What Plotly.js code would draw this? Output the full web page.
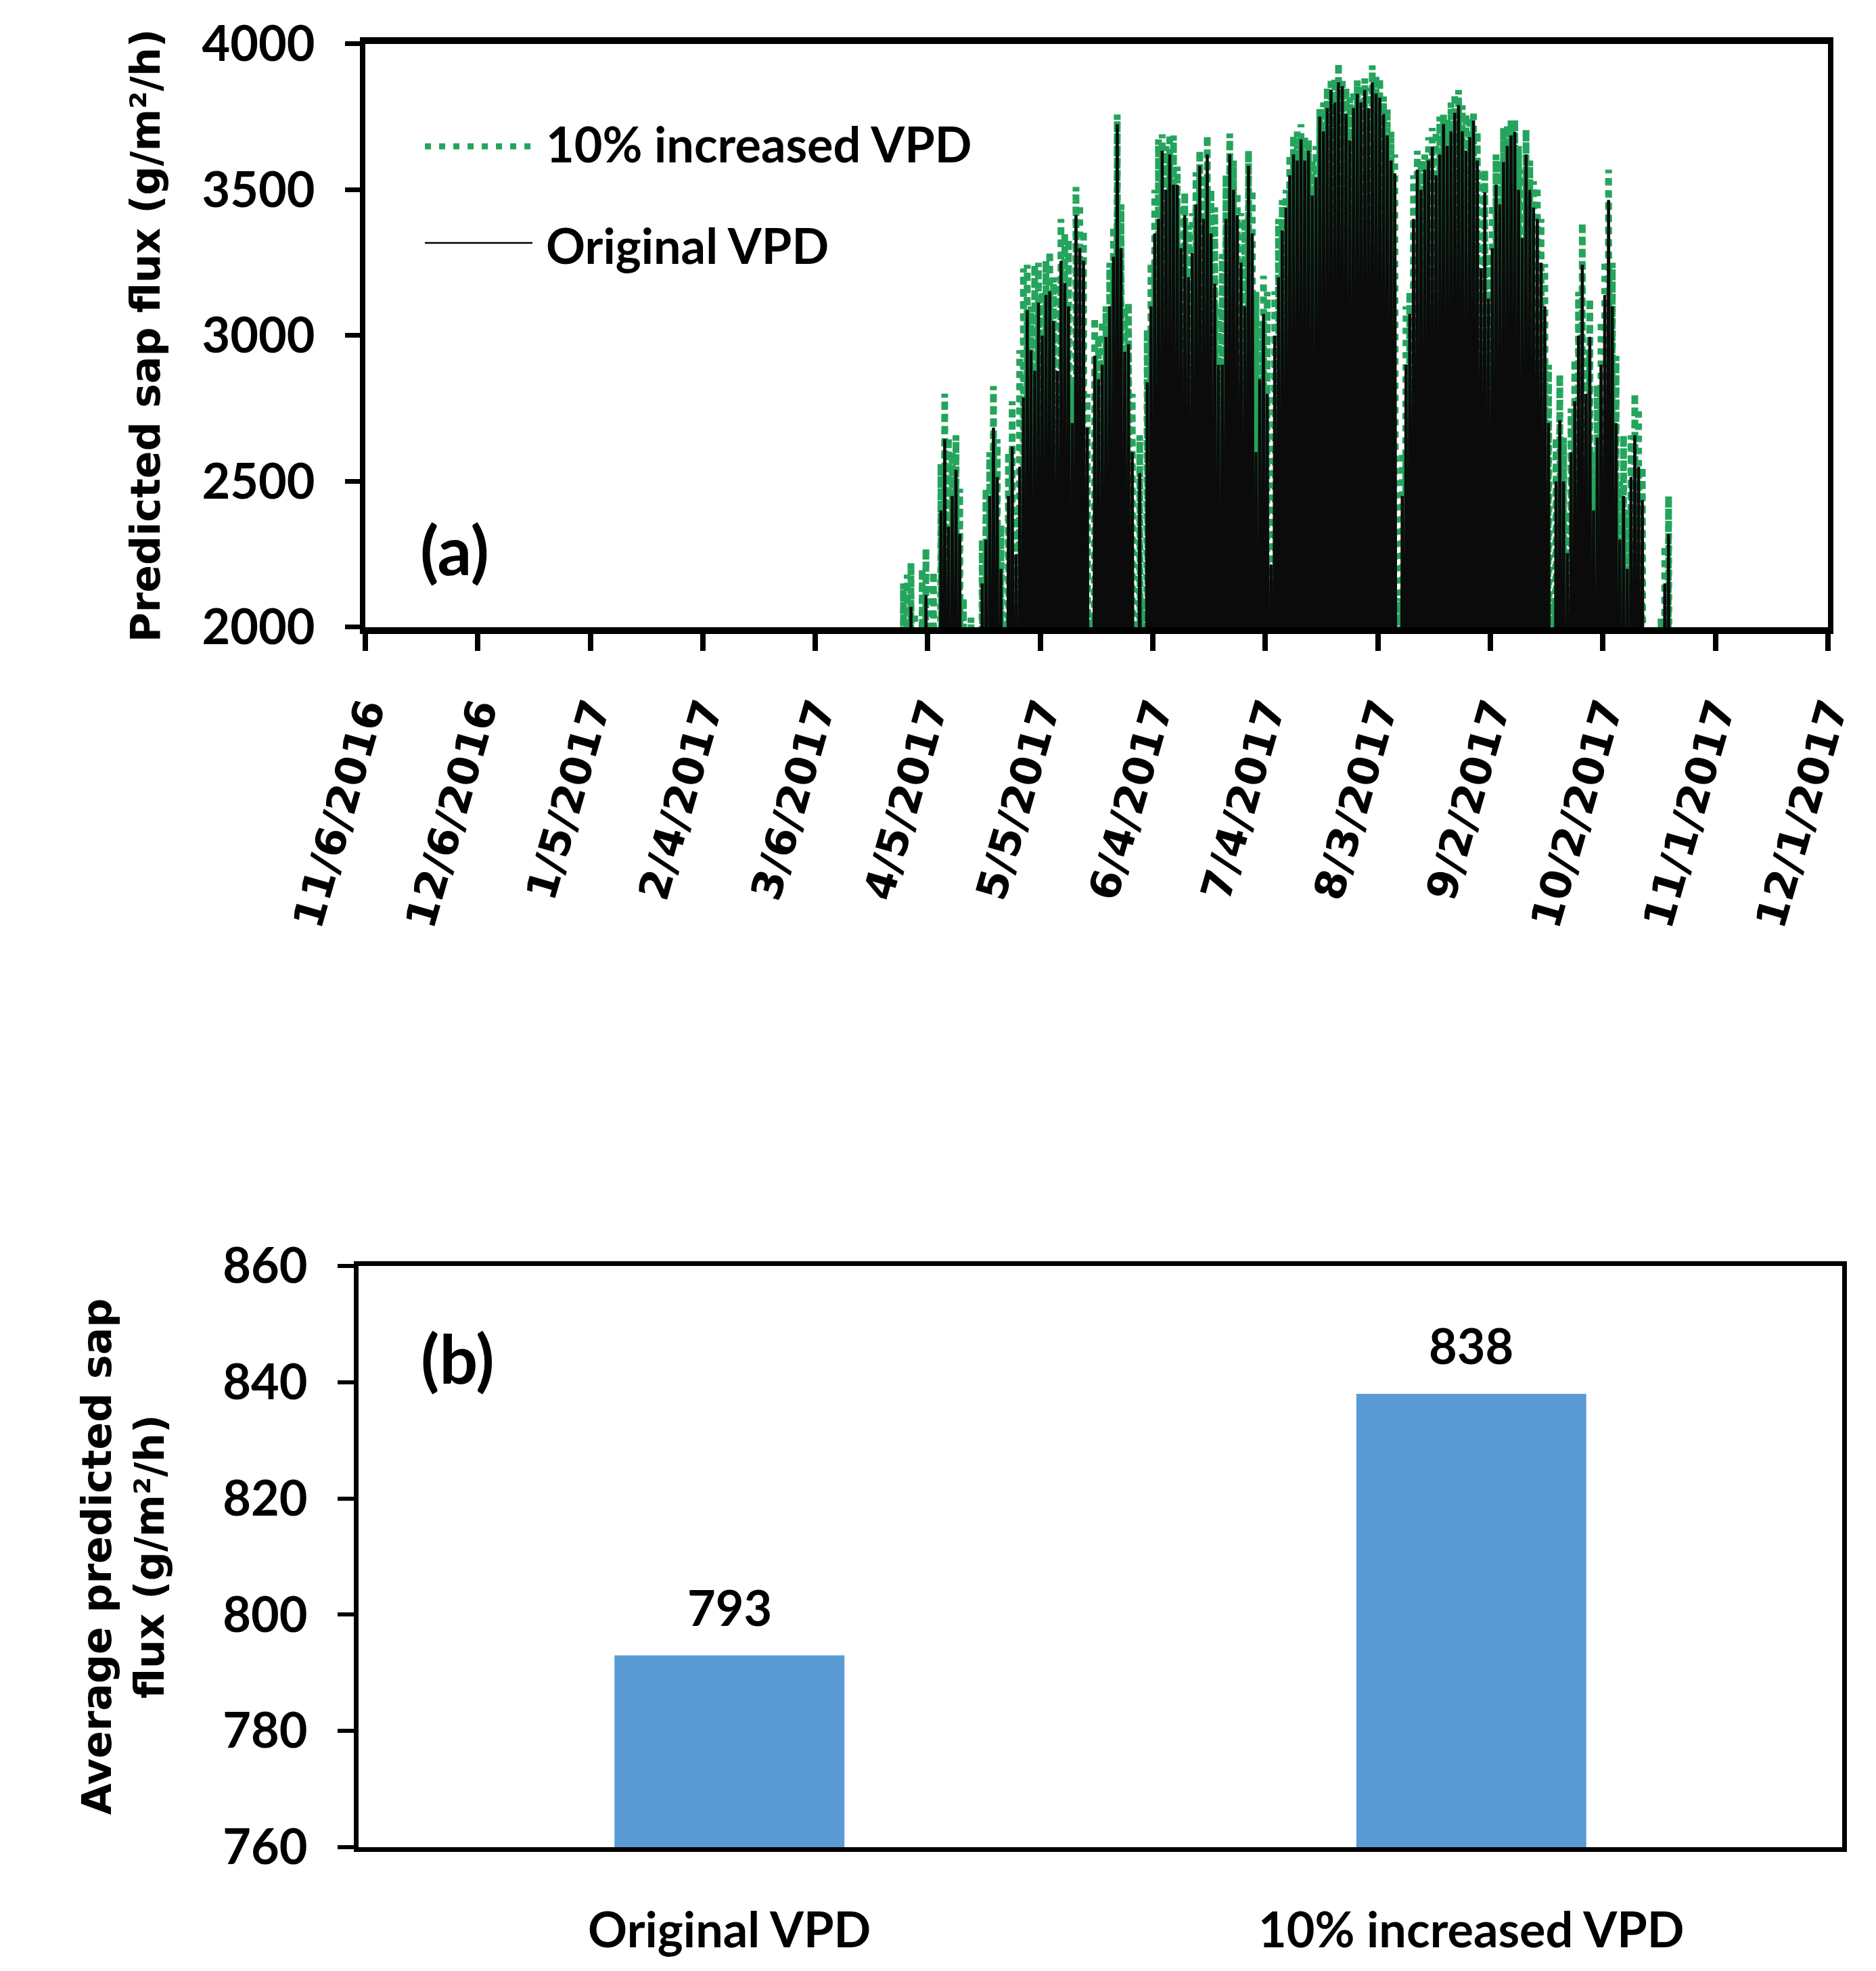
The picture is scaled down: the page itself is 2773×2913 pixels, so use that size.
<!DOCTYPE html>
<html>
<head>
<meta charset="utf-8">
<script src="https://cdn.plot.ly/plotly-3.0.1.min.js"></script>
<style>
  html, body { margin: 0; padding: 0; background: #fff; }
  #chart { width: 2773px; height: 2913px; }
</style>
</head>
<body>
<div id="chart"></div>
<script>
'use strict';
/* (a) Daily peak of predicted sap flux, one value per day from 3/28/2017 */
var start_day = [2017, 2, 28];
var orig_peak = [
  1500, 1900, 1950, 2070, 1900, 1800, 1950, 2110, 1900, 1850,   // 3/28
  1700, 2400, 2645, 2345, 2450, 2540, 2320, 1950, 1700, 1900,   // 4/7
  1600, 1800, 2150, 2300, 2450, 2684, 2515, 2200, 1900, 2450,   // 4/17
  2619, 2250, 2550, 2788, 3087, 2950, 2879, 3113, 3000, 3139,   // 4/27
  3152, 3050, 2879, 3256, 3180, 3100, 2700, 3413, 3300, 3256,   // 5/7
  2684, 1900, 2931, 2850, 2900, 2996, 3100, 3270, 3725, 3300,   // 5/17
  2944, 2970, 2600, 1900, 2528, 1950, 2840, 3100, 3350, 3400,   // 5/27
  3634, 3500, 3621, 3517, 3517, 3300, 3413, 3200, 3283, 3450,   // 6/6
  3582, 3400, 3621, 3350, 3178, 2900, 2900, 3400, 3621, 3500,   // 6/16
  3413, 3250, 3100, 3582, 3350, 2600, 2850, 3074, 2800, 2215,   // 6/26
  3000, 3200, 3361, 3439, 3550, 3621, 3600, 3673, 3600, 3634,   // 7/6
  3480, 3543, 3751, 3700, 3780, 3842, 3800, 3868, 3855, 3760,   // 7/16
  3670, 3780, 3829, 3800, 3842, 3780, 3868, 3830, 3816, 3760,   // 7/26
  3686, 3600, 3556, 1950, 2450, 2900, 3074, 3400, 3569, 3500,   // 8/5
  3569, 3600, 3647, 3550, 3621, 3725, 3650, 3700, 3764, 3790,   // 8/15
  3700, 3634, 3680, 3738, 3600, 3231, 3491, 3127, 3300, 3517,   // 8/25
  3450, 3595, 3650, 3686, 3699, 3500, 3335, 3621, 3500, 3439,   // 9/4
  3400, 3250, 3100, 2700, 1950, 2500, 2710, 2500, 2254, 2600,   // 9/14
  2775, 3000, 3243, 2800, 2996, 2400, 2650, 2900, 3139, 3465,   // 9/24
  3100, 2700, 2300, 2450, 2200, 2515, 2658, 2550, 2436, 1800,   // 10/4
  1600, 1500, 1700, 1900, 2150, 2319, 1800, 1500, 1300          // 10/14
];
var vpd10_peak = [
  1650, 2150, 2180, 2220, 2050, 1950, 2200, 2270, 2150, 2190,
  1850, 2560, 2801, 2650, 2600, 2658, 2475, 2100, 1850, 2033,
  1750, 1950, 2300, 2475, 2600, 2827, 2645, 2350, 2050, 2600,
  2775, 2397, 2950, 3230, 3243, 3100, 3243, 3250, 3150, 3256,
  3289, 3200, 3200, 3400, 3350, 3330, 2850, 3510, 3450, 3360,
  2800, 2050, 3061, 3000, 3050, 3100, 3250, 3374, 3758, 3450,
  3100, 3113, 2800, 2050, 2658, 2100, 3020, 3250, 3500, 3673,
  3690, 3650, 3690, 3686, 3580, 3450, 3491, 3380, 3420, 3560,
  3634, 3550, 3686, 3500, 3440, 3100, 3280, 3550, 3693, 3600,
  3491, 3420, 3400, 3634, 3500, 3150, 3050, 3205, 3150, 2400,
  3152, 3400, 3465, 3500, 3620, 3686, 3700, 3725, 3680, 3670,
  3600, 3650, 3777, 3800, 3850, 3882, 3880, 3934, 3882, 3850,
  3816, 3840, 3875, 3860, 3882, 3850, 3927, 3890, 3882, 3820,
  3777, 3700, 3621, 2100, 2600, 3100, 3150, 3550, 3634, 3600,
  3621, 3680, 3712, 3700, 3751, 3760, 3740, 3800, 3829, 3842,
  3790, 3760, 3750, 3771, 3700, 3569, 3569, 3280, 3450, 3621,
  3600, 3712, 3720, 3738, 3740, 3650, 3569, 3706, 3600, 3530,
  3510, 3400, 3245, 2900, 2100, 2650, 2866, 2650, 2398, 2750,
  2918, 3150, 3387, 2950, 3126, 2600, 2830, 3050, 3257, 3569,
  3250, 2930, 2500, 2658, 2400, 2658, 2801, 2750, 2550, 1950,
  1700, 1600, 1800, 2030, 2280, 2450, 1950, 1600, 1400
];
/* at night the flux falls well below the axis floor */
var night_flux = 0;

/* (b) Average predicted sap flux */
var bar_labels = ['Original VPD', '10% increased VPD'];
var bar_values = [793, 838];

var x_ticks_start = '2016-11-06';
var x_ticks_step_days = 30;

function dayStamp(i, hour) {
  var ms = Date.UTC(start_day[0], start_day[1], start_day[2]) + i * 864e5 + hour * 36e5;
  return new Date(ms).toISOString().slice(0, 19).replace('T', ' ');
}

function diurnal(peaks) {
  var xs = [], ys = [];
  for (var i = 0; i < peaks.length; i++) {
    xs.push(dayStamp(i, 0));  ys.push(night_flux);
    xs.push(dayStamp(i, 12)); ys.push(peaks[i]);
  }
  xs.push(dayStamp(peaks.length, 0)); ys.push(night_flux);
  return {x: xs, y: ys};
}

var green = '#24a45c';
var inc = diurnal(vpd10_peak);
var org = diurnal(orig_peak);

var data = [
{
  x: inc.x, y: inc.y,
  type: 'scatter', mode: 'lines',
  name: '10% increased VPD',
  line: {color: green, width: 10, dash: '9px,9px'},
  xaxis: 'x', yaxis: 'y'
},
{
  x: org.x, y: org.y,
  type: 'scatter', mode: 'lines',
  name: 'Original VPD',
  line: {color: '#0b0b0b', width: 4.6},
  xaxis: 'x', yaxis: 'y'
},
{
  x: bar_labels, y: bar_values,
  type: 'bar',
  marker: {color: '#5b9bd5'},
  hoverinfo: 'y',
  xaxis: 'x2', yaxis: 'y2'
}];

var calibri = {family: 'Lato, Liberation Sans, sans-serif', size: 72, color: '#000', weight: 'bold'};
var verdana = {family: 'DejaVu Sans, Verdana, sans-serif', size: 60, color: '#000', weight: 'bold'};

var annotations = bar_labels.map(function (c, i) {
  return {
    x: c, y: bar_values[i], xref: 'x2', yref: 'y2',
    text: String(bar_values[i]), showarrow: false,
    yanchor: 'middle', yshift: 72, font: calibri
  };
});
annotations.push(
  {x: 0.2903, y: 0.9272, xref: 'paper', yref: 'paper', xanchor: 'left', yanchor: 'middle',
   text: '10% increased VPD', showarrow: false, font: calibri},
  {x: 0.2903, y: 0.8757, xref: 'paper', yref: 'paper', xanchor: 'left', yanchor: 'middle',
   text: 'Original VPD', showarrow: false, font: calibri},
  {x: 0.2423, y: 0.7216, xref: 'paper', yref: 'paper', xanchor: 'center', yanchor: 'middle',
   text: '(a)', showarrow: false, font: {family: calibri.family, size: 100, color: '#000', weight: 'bold'}},
  {x: 0.2441, y: 0.3114, xref: 'paper', yref: 'paper', xanchor: 'center', yanchor: 'middle',
   text: '(b)', showarrow: false, font: {family: calibri.family, size: 100, color: '#000', weight: 'bold'}}
);

var layout = {
  width: 2773,
  height: 2913,
  margin: {l: 0, r: 0, t: 0, b: 0},
  paper_bgcolor: '#fff',
  plot_bgcolor: '#fff',
  showlegend: false,
  bargap: 0.69,
  font: calibri,
  xaxis: {
    type: 'date',
    domain: [0.1947, 0.9744],
    anchor: 'y',
    range: ['2016-11-06', '2017-12-01 00:10'],
    tick0: x_ticks_start,
    dtick: x_ticks_step_days * 864e5,
    tickformat: '%-m/%-d/%Y',
    tickangle: -74,
    tickfont: {family: verdana.family, size: 62, color: '#000', weight: 'bold'},
    ticks: 'outside', ticklen: 25, tickwidth: 8, tickcolor: '#000',
    ticklabelstandoff: 28,
    showline: true, linewidth: 10, linecolor: '#000', mirror: true,
    showgrid: false, zeroline: false
  },
  yaxis: {
    domain: [0.6818, 0.9777],
    anchor: 'x',
    range: [2000, 4000],
    dtick: 500,
    ticks: 'outside', ticklen: 22, tickwidth: 7, tickcolor: '#000',
    ticklabelstandoff: 30,
    tickfont: calibri,
    showline: true, linewidth: 8, linecolor: '#000', mirror: true,
    showgrid: false, zeroline: false,
    title: {text: 'Predicted sap flux (g/m²/h)', font: verdana, standoff: 45}
  },
  xaxis2: {
    type: 'category',
    domain: [0.1911, 0.9820],
    anchor: 'y2',
    ticks: '',
    tickfont: calibri,
    ticklabelstandoff: 55,
    showline: true, linewidth: 7, linecolor: '#000', mirror: true,
    showgrid: false, zeroline: false
  },
  yaxis2: {
    domain: [0.0628, 0.3577],
    anchor: 'x2',
    range: [760, 860],
    dtick: 20,
    ticks: 'outside', ticklen: 24, tickwidth: 6, tickcolor: '#000',
    ticklabelstandoff: 30,
    tickfont: calibri,
    showline: true, linewidth: 7, linecolor: '#000', mirror: true,
    showgrid: false, zeroline: false,
    title: {text: 'Average predicted sap<br>flux (g/m²/h)', font: verdana, standoff: 70}
  },
  shapes: [
    {type: 'line', xref: 'paper', yref: 'paper', x0: 0.2265, x1: 0.2838, y0: 0.9258, y1: 0.9258,
     line: {color: green, width: 9, dash: '9px,12px'}},
    {type: 'line', xref: 'paper', yref: 'paper', x0: 0.2265, x1: 0.2838, y0: 0.8768, y1: 0.8768,
     line: {color: '#000', width: 2.5}}
  ],
  annotations: annotations
};

Plotly.newPlot('chart', data, layout, {staticPlot: true});
</script>
</body>
</html>
